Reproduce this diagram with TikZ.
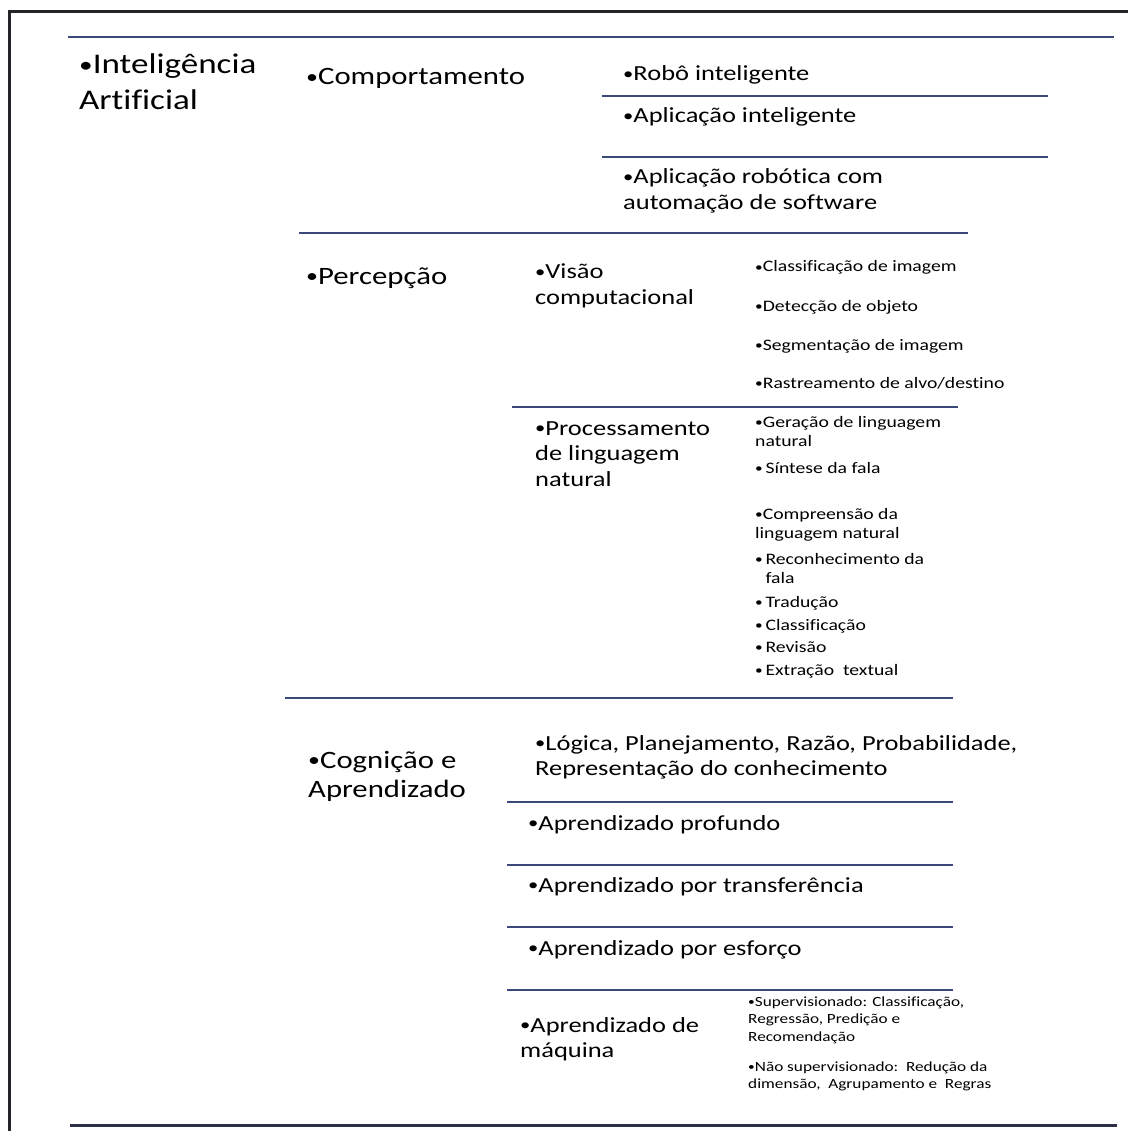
\documentclass[tikz,border=0pt]{standalone}
\usepackage{graphicx}
\usepackage{fontspec}
\setmainfont{Carlito}[FakeStretch=1.23, Ligatures=NoCommon]
\definecolor{rulecol}{RGB}{58,72,122}
\definecolor{basecol}{RGB}{45,48,70}
\definecolor{framecol}{RGB}{35,35,40}
% multi-line text whose baseline is the first line
\newcommand{\stack}[1]{\begin{tabular}[t]{@{}l@{}}#1\end{tabular}}
% a slightly smaller bullet
\newcommand{\bul}{\raisebox{0.06em}{\scalebox{0.78}{•}}}
\tikzset{
  item/.style={anchor=base west, inner sep=0pt, text=black},
  lvlA/.style={item, font=\fontsize{28.5}{36}\selectfont},
  lvlB/.style={item, font=\fontsize{25}{29}\selectfont},
  lvlC/.style={item, font=\fontsize{21.5}{25.5}\selectfont},
  lvlD/.style={item, font=\fontsize{16}{19}\selectfont},
  lvlE/.style={item, font=\fontsize{14}{17.5}\selectfont},
  sepline/.style={draw=rulecol, line width=2.4pt},
  baseline rule/.style={draw=basecol, line width=3pt},
  framerule/.style={draw=framecol, line width=3pt},
}
\begin{document}
\begin{tikzpicture}[x=1pt, y=-1pt]
\useasboundingbox (0,0) rectangle (1128,1131);
\fill[white] (0,0) rectangle (1128,1131);

% outer frame (top and left)
\draw[framerule] (1128,12) -- (9,12) -- (9,1131);

% separators
\draw[sepline] (68,37) -- (1114,37);
\draw[sepline] (602,96) -- (1048,96);
\draw[sepline] (602,157) -- (1048,157);
\draw[sepline] (299,233) -- (968,233);
\draw[sepline] (512,407) -- (958,407);
\draw[sepline] (285,698) -- (953,698);
\draw[sepline] (507,802) -- (953,802);
\draw[sepline] (507,865) -- (953,865);
\draw[sepline] (507,927) -- (953,927);
\draw[sepline] (507,990) -- (953,990);
\draw[baseline rule] (70,1125) -- (1117,1125);

% level 1
\node[lvlA] (ia) at (79,74) {\stack{\bul Inteligência\\Artificial}};

% level 2
\node[lvlB] (comp) at (306,85) {\bul Comportamento};
\node[lvlB] (perc) at (306,284) {\bul Percepção};
\node[lvlB] (cogn) at (308,768) {\stack{\bul Cognição e\\Aprendizado}};

% behaviour
\node[lvlC] (robo) at (623,81) {\bul Robô inteligente};
\node[lvlC] (apint) at (623,123) {\bul Aplicação inteligente};
\node[lvlC] (aprob) at (623,184) {\stack{\bul Aplicação robótica com\\automação de software}};

% perception
\node[lvlC] (visao) at (535,279) {\stack{\bul Visão\\computacional}};
\node[lvlC] (pln) at (535,435) {\stack{\bul Processamento\\de linguagem\\natural}};

\node[lvlD] (v1) at (755,272) {\bul Classificação de imagem};
\node[lvlD] (v2) at (755,311) {\bul Detecção de objeto};
\node[lvlD] (v3) at (755,350) {\bul Segmentação de imagem};
\node[lvlD] (v4) at (755,388) {\bul Rastreamento de alvo/destino};

\node[lvlD] (n1) at (755,427) {\stack{\bul Geração de linguagem\\natural}};
\node[lvlD] (n2) at (755,473) {\bul\,Síntese da fala};
\node[lvlD] (n3) at (755,519) {\stack{\bul Compreensão da\\linguagem natural}};
\node[lvlD] (n4) at (755,564) {\stack{\bul\,Reconhecimento da\\\hphantom{\bul\,}fala}};
\node[lvlD] (n5) at (755,607) {\bul\,Tradução};
\node[lvlD] (n6) at (755,630) {\bul\,Classificação};
\node[lvlD] (n7) at (755,652) {\bul\,Revisão};
\node[lvlD] (n8) at (755,675) {\bul\,Extração\ \ textual};

% cognition and learning
\node[lvlC] (logica) at (535,750) {\stack{\bul Lógica, Planejamento, Razão, Probabilidade,\\Representação do conhecimento}};
\node[lvlC] (aprof) at (528,830) {\bul Aprendizado profundo};
\node[lvlC] (atrans) at (528,892) {\bul Aprendizado por transferência};
\node[lvlC] (aesf) at (528,955) {\bul Aprendizado por esforço};
\node[lvlC] (amaq) at (520,1032) {\stack{\bul Aprendizado de\\máquina}};

\node[lvlE] (sup) at (748,1006) {\stack{\bul Supervisionado: Classificação,\\Regressão, Predição e\\Recomendação}};
\node[lvlE] (nsup) at (748,1071) {\stack{\bul Não supervisionado:\ \ Redução da\\dimensão,\ \ Agrupamento e\ \ Regras}};
\end{tikzpicture}
\end{document}
